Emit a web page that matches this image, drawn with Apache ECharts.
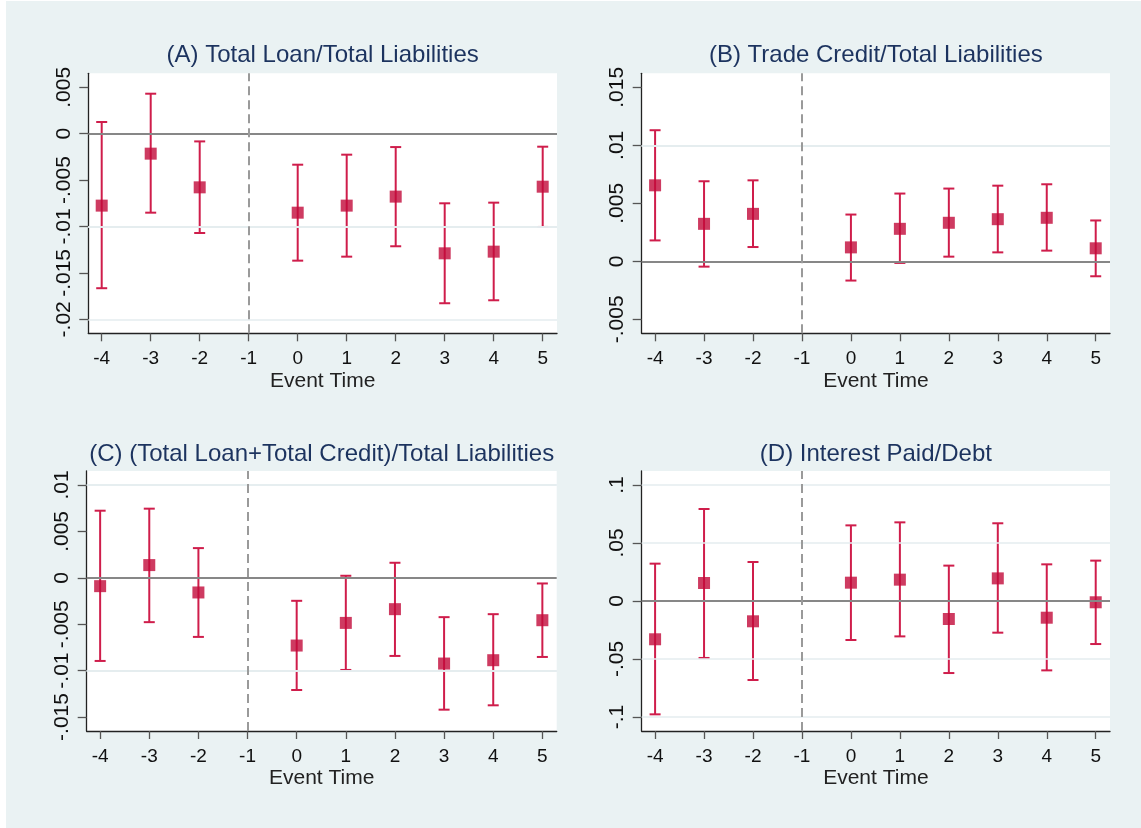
<!DOCTYPE html>
<html>
<head>
<meta charset="utf-8">
<script src="https://cdn.jsdelivr.net/npm/echarts@6/dist/echarts.min.js"></script>
<style>
  html, body { margin: 0; padding: 0; background: #ffffff; }
  #chart { position: absolute; left: 6px; top: 1px; width: 1135px; height: 827px; }
</style>
</head>
<body>
<div id="chart"></div>
<script>
// Event-study estimates with 95% confidence intervals (event time -1 is the base period)
const eventTimes = [-4, -3, -2, 0, 1, 2, 3, 4, 5];
const xTicks = [-4, -3, -2, -1, 0, 1, 2, 3, 4, 5];

const titleA = '(A) Total Loan/Total Liabilities';
const pointA = [-0.00775, -0.00215, -0.00578, -0.00851, -0.00775, -0.00678, -0.01289, -0.01271, -0.00571];
const upperA = [0.00126, 0.00431, -0.00083, -0.00334, -0.00226, -0.00144, -0.0075, -0.00743, -0.0014];
const lowerA = [-0.01665, -0.00851, -0.0107, -0.01368, -0.01325, -0.01213, -0.01827, -0.01795, -0.01005];
const yTicksA = [-0.02, -0.015, -0.01, -0.005, 0, 0.005];

const titleB = '(B) Trade Credit/Total Liabilities';
const pointB = [0.00655, 0.00323, 0.00409, 0.0012, 0.0028, 0.00332, 0.00363, 0.00375, 0.00112];
const upperB = [0.0113, 0.0069, 0.00698, 0.00403, 0.00584, 0.00627, 0.00652, 0.00664, 0.00352];
const lowerB = [0.0018, -0.00046, 0.00123, -0.00166, -0.00014, 0.0004, 0.00077, 0.00092, -0.00129];
const yTicksB = [-0.005, 0, 0.005, 0.01, 0.015];

const titleC = '(C) (Total Loan+Total Credit)/Total Liabilities';
const pointC = [-0.0009, 0.00137, -0.00158, -0.0073, -0.00486, -0.00338, -0.00924, -0.00888, -0.00457];
const upperC = [0.00723, 0.00745, 0.0032, -0.00248, 0.00022, 0.00162, -0.00424, -0.00392, -0.00061];
const lowerC = [-0.00896, -0.00478, -0.00637, -0.01209, -0.00993, -0.00842, -0.01421, -0.01374, -0.00853];
const yTicksC = [-0.015, -0.01, -0.005, 0, 0.005, 0.01];

const titleD = '(D) Interest Paid/Debt';
const pointD = [-0.033, 0.0155, -0.0175, 0.0158, 0.0184, -0.0155, 0.0195, -0.0144, -0.0011];
const upperD = [0.0322, 0.0793, 0.0336, 0.0652, 0.0678, 0.0305, 0.067, 0.0316, 0.0348];
const lowerD = [-0.0977, -0.0491, -0.0681, -0.0336, -0.0305, -0.0621, -0.0273, -0.0598, -0.0371];
const yTicksD = [-0.1, -0.05, 0, 0.05, 0.1];

const xAxisName = 'Event Time';
const baseTime = -1;

// styling
const BG = '#eaf2f3';
const GRIDLINE = '#e5edef';
const MARKER = '#c20a3a';
const BAR = '#cf1d4b';
const TITLE = '#1c335f';
const FONT = '"Liberation Sans", Arial, sans-serif';
const PAD_FRAC = 14 / 232;   // plot-region margin beyond outer ticks

const panels = [
  { title: titleA, point: pointA, upper: upperA, lower: lowerA, ticks: yTicksA,
    grid: { left: 82.3, top: 72.3, width: 468.7, height: 260 }, titleY: 54.5 },
  { title: titleB, point: pointB, upper: upperB, lower: lowerB, ticks: yTicksB,
    grid: { left: 635.7, top: 72.3, width: 468.3, height: 260 }, titleY: 54.5 },
  { title: titleC, point: pointC, upper: upperC, lower: lowerC, ticks: yTicksC,
    grid: { left: 80.7, top: 470, width: 470, height: 260 }, titleY: 453 },
  { title: titleD, point: pointD, upper: upperD, lower: lowerD, ticks: yTicksD,
    grid: { left: 635.7, top: 470, width: 468.3, height: 260 }, titleY: 453 }
];

function fmtTick(v) {
  if (v === 0) return '0';
  return String(v).replace('0.', '.');
}

const xMin = -4 - 13.4 / 49;
const xMax = 5 + 14.3 / 49;

const grids = [], xAxes = [], yAxes = [], series = [], graphics = [];

panels.forEach((p, i) => {
  const lo = p.ticks[0], hi = p.ticks[p.ticks.length - 1];
  const pad = (hi - lo) * PAD_FRAC;
  grids.push(Object.assign({ show: true, backgroundColor: '#ffffff', borderWidth: 0 }, p.grid));

  xAxes.push({
    gridIndex: i, type: 'value', min: xMin, max: xMax,
    name: xAxisName, nameLocation: 'middle', nameGap: 37,
    nameTextStyle: { fontFamily: FONT, fontSize: 21, color: '#222' },
    axisLine: { show: true, onZero: false, lineStyle: { color: '#222', width: 1.3 } },
    axisTick: { show: true, length: 8, customValues: xTicks, lineStyle: { color: '#555', width: 1.3 } },
    axisLabel: { customValues: xTicks, margin: 16, fontFamily: FONT, fontSize: 19, color: '#111',
                 formatter: v => String(v) },
    splitLine: { show: false }
  });

  yAxes.push({
    gridIndex: i, type: 'value', min: lo - pad, max: hi + pad,
    axisLine: { show: true, onZero: false, lineStyle: { color: '#222', width: 1.3 } },
    axisTick: { show: true, length: 9, customValues: p.ticks, lineStyle: { color: '#555', width: 1.3 } },
    axisLabel: { customValues: p.ticks, rotate: 90, margin: 14, fontFamily: FONT, fontSize: 21, color: '#111',
                 formatter: fmtTick },
    splitLine: { show: false }
  });

  // gridlines, zero line and base-period line
  series.push({
    type: 'scatter', xAxisIndex: i, yAxisIndex: i, z: 1, silent: true,
    symbolSize: 0, data: eventTimes.map((t, k) => [t, p.point[k]]),
    markLine: {
      silent: true, symbol: 'none', animation: false, label: { show: false },
      data: p.ticks.filter(t => t !== 0).map(t => ({ yAxis: t, lineStyle: { color: GRIDLINE, width: 1.6, type: 'solid' } }))
        .concat([
          { yAxis: 0, lineStyle: { color: '#878787', width: 2, type: 'solid' } },
          { xAxis: baseTime, lineStyle: { color: '#9a9a9a', width: 2, type: [9, 5] } }
        ])
    }
  });

  // confidence intervals
  series.push({
    type: 'custom', xAxisIndex: i, yAxisIndex: i, z: 2, silent: true,
    data: eventTimes.map((t, k) => [t, p.lower[k], p.upper[k]]),
    encode: { x: 0, y: [1, 2] },
    renderItem: (params, api) => {
      const x = api.value(0);
      const a = api.coord([x, api.value(1)]);
      const b = api.coord([x, api.value(2)]);
      const h = 5.5;
      const st = { stroke: BAR, lineWidth: 2 };
      return {
        type: 'group', children: [
          { type: 'line', shape: { x1: a[0], y1: a[1], x2: b[0], y2: b[1] }, style: st },
          { type: 'line', shape: { x1: a[0] - h, y1: a[1], x2: a[0] + h, y2: a[1] }, style: st },
          { type: 'line', shape: { x1: b[0] - h, y1: b[1], x2: b[0] + h, y2: b[1] }, style: st }
        ]
      };
    }
  });

  // point estimates
  series.push({
    type: 'scatter', xAxisIndex: i, yAxisIndex: i, z: 3, silent: true,
    symbol: 'rect', symbolSize: 12,
    itemStyle: { color: MARKER },
    data: eventTimes.map((t, k) => [t, p.point[k]])
  });

  graphics.push({
    type: 'text', x: p.grid.left + p.grid.width / 2, y: p.titleY,
    style: { text: p.title, align: 'center', verticalAlign: 'middle',
             font: '24px ' + FONT, fill: TITLE }
  });
});

const chart = echarts.init(document.getElementById('chart'), null, { renderer: 'canvas' });
chart.setOption({
  animation: false,
  backgroundColor: BG,
  grid: grids,
  xAxis: xAxes,
  yAxis: yAxes,
  series: series,
  graphic: graphics
});
</script>
</body>
</html>
